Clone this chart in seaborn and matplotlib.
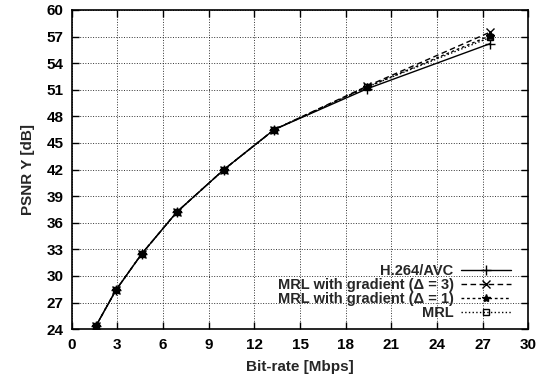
import numpy as np
import pandas as pd
import matplotlib
matplotlib.use("Agg")
import matplotlib.pyplot as plt
import seaborn as sns

# bit-rate points (Mbps), shared by all curves
bitrate = [1.6, 2.9, 4.6, 6.9, 10.0, 13.3, 19.4, 27.5]

h264 = [24.4, 28.4, 32.5, 37.2, 42.0, 46.5, 51.1, 56.2]
mrl_grad3 = [24.4, 28.4, 32.5, 37.2, 42.0, 46.5, 51.4, 57.5]
mrl_grad1 = [24.4, 28.4, 32.5, 37.2, 42.0, 46.5, 51.3, 57.1]
mrl = [24.4, 28.4, 32.5, 37.2, 42.0, 46.5, 51.3, 56.9]

names = ["H.264/AVC", "MRL with gradient (Δ = 3)", "MRL with gradient (Δ = 1)", "MRL"]
styles = {
    names[0]: dict(linestyle="-", marker="+", markersize=7, fillstyle="full"),
    names[1]: dict(linestyle=(0, (4, 2.5)), marker="x", markersize=6, fillstyle="full"),
    names[2]: dict(linestyle=(0, (2, 2)), marker="*", markersize=6, fillstyle="full"),
    names[3]: dict(linestyle=":", marker="s", markersize=5, fillstyle="none"),
}

df = pd.DataFrame({
    "Bit-rate": bitrate * 4,
    "PSNR": h264 + mrl_grad3 + mrl_grad1 + mrl,
    "Method": np.repeat(names, len(bitrate)),
})

sns.set_style("ticks")
plt.rcParams["font.family"] = ["Liberation Sans", "DejaVu Sans"]
plt.rcParams["font.weight"] = "bold"

fig = plt.figure(figsize=(5.52, 3.81), dpi=100)
ax = fig.add_axes([0.130, 0.136, 0.827, 0.838])

for name in names:
    sub = df[df["Method"] == name]
    st = styles[name]
    sns.lineplot(data=sub, x="Bit-rate", y="PSNR", ax=ax, color="black",
                 linewidth=1.0, label=name, markeredgecolor="black",
                 markeredgewidth=1.0, **st)

ax.set_xlim(0, 30)
ax.set_ylim(24, 60)
ax.set_xticks(range(0, 31, 3))
ax.set_yticks(range(24, 61, 3))
ax.grid(True, color="black", linestyle=":", linewidth=0.7, alpha=0.8)
ax.tick_params(direction="in", length=5, width=1.0, top=True, right=True,
               labelsize=11, colors="black", pad=6)
for lab in ax.get_xticklabels() + ax.get_yticklabels():
    lab.set_fontweight("bold")
for s in ax.spines.values():
    s.set_visible(True)
    s.set_linewidth(1.2)
    s.set_color("black")

ax.set_xlabel("Bit-rate [Mbps]", fontsize=11, fontweight="bold", labelpad=6)
ax.set_ylabel("PSNR Y [dB]", fontsize=11, fontweight="bold", labelpad=8)

leg = ax.legend(loc="lower right", bbox_to_anchor=(0.982, 0.0), frameon=False,
                markerfirst=False, prop={"size": 10.5, "weight": "bold"},
                handlelength=3.4, handletextpad=0.5, labelspacing=0.0,
                borderaxespad=0.25)

fig.savefig("out.png", dpi=100)
